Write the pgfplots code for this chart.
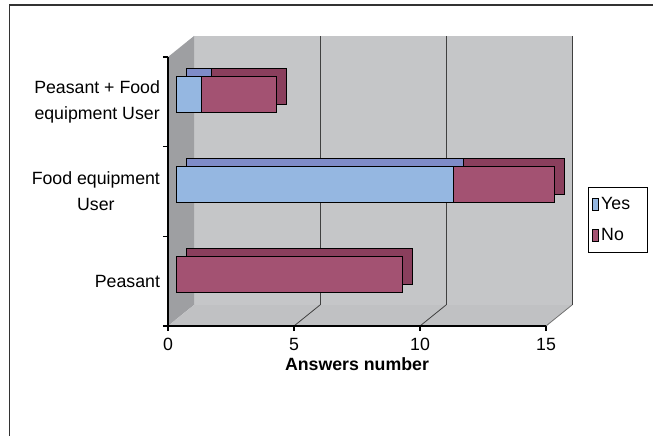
\documentclass[border=0pt]{standalone}
\usepackage{fontspec}
\setmainfont{Liberation Sans}
\usepackage{pgfplots}
\pgfplotsset{compat=1.18}
\definecolor{yesfront}{RGB}{149,183,225}
\definecolor{yestop}{RGB}{127,140,200}
\definecolor{nofront}{RGB}{163,82,114}
\definecolor{notop}{RGB}{138,63,93}
\definecolor{backwall}{RGB}{197,198,200}
\definecolor{leftwall}{RGB}{158,159,162}
\definecolor{floorc}{RGB}{192,193,195}
\newcommand{\lfont}{\fontsize{13.3}{19.5}\selectfont}
\pgfplotsset{
  common/.style={scale only axis, width=283.5pt, height=201.75pt,
    xmin=0, xmax=15, ymin=0, ymax=3, anchor=south west,
    /pgf/number format/assume math mode=true},
  barsax/.style={common, hide axis, xbar stacked, bar width=27pt,
    clip=false},
}
\begin{document}
\begin{tikzpicture}
\begin{scope}[x=0.75pt,y=0.75pt]
\useasboundingbox (0,0) rectangle (653,436);
% outer frame (top and left)
\draw[line width=1.4pt, black!80] (9.5,0) -- (9.5,431) -- (653,431);
\end{scope}
% back wall
\begin{axis}[common, at={(145.5pt,98.25pt)}, axis background/.style={fill=backwall},
  axis line style={draw=none}, xtick={5,10,15}, ytick=\empty,
  xticklabels={}, major tick length=0pt, xmajorgrids,
  grid style={black!75, line width=0.6pt}]
\addplot[draw=none] coordinates {(0,0)};
\end{axis}
\begin{scope}[x=0.75pt,y=0.75pt]
% left wall and floor
\fill[leftwall] (168,110) -- (194,131) -- (194,400) -- (168,379) -- cycle;
\fill[floorc] (168,110) -- (194,131) -- (572,131) -- (546,110) -- cycle;
\draw[black!75, line width=0.6pt] (294,110) -- (320,131) (420,110) -- (446,131);
\draw[black!55, line width=0.6pt] (546,110) -- (572,131);
\end{scope}
% front axis with ticks
\begin{axis}[common, at={(126pt,82.5pt)},
  axis x line*=bottom, axis y line*=left, axis line style={-, line width=0.8pt},
  tick align=outside, major tick length=3.75pt,
  tick style={black, line width=0.8pt},
  xtick={0,5,10,15}, ytick={0,1,2,3}, yticklabels={},
  extra y ticks={0.5,1.5,2.5},
  extra y tick labels={Peasant,{Food equipment\\User},{Peasant + Food\\equipment User}},
  extra y tick style={major tick length=0pt, tick style={draw=none}},
  yticklabel style={align=center, font=\lfont, xshift=-2.5pt},
  xticklabel style={font=\lfont, yshift=-2pt},
  xlabel={\textbf{Answers number}},
  xlabel style={font=\lfont, at={(axis description cs:0.5,-0.141)}, anchor=center}]
\addplot[draw=none] coordinates {(0,0)};
\end{axis}
% bar depth (top/side faces)
\begin{axis}[barsax, at={(139.5pt,93.75pt)}]
\addplot[fill=yestop, draw=black, line width=0.6pt] coordinates {(0,0.5) (11,1.5) (1,2.5)};
\addplot[fill=notop, draw=black, line width=0.6pt] coordinates {(9,0.5) (4,1.5) (3,2.5)};
\end{axis}
% front faces of bars
\begin{axis}[barsax, at={(132pt,87.75pt)},
  legend style={at={(axis description cs:1.09,0.368)}, anchor=west,
    draw=black, line width=0.6pt, fill=white, font=\lfont,
    inner xsep=3pt, inner ysep=5pt, row sep=9pt,
    nodes={inner xsep=2pt}},
  legend cell align=left,
  legend image code/.code={\draw[#1, line width=0.6pt] (0pt,-4.5pt) rectangle (4pt,4.5pt);}]
\addplot[fill=yesfront, draw=black, line width=0.6pt] coordinates {(0,0.5) (11,1.5) (1,2.5)};
\addlegendentry{\makebox[30pt][l]{Yes}}
\addplot[fill=nofront, draw=black, line width=0.6pt] coordinates {(9,0.5) (4,1.5) (3,2.5)};
\addlegendentry{No}
\end{axis}
\end{tikzpicture}
\end{document}
